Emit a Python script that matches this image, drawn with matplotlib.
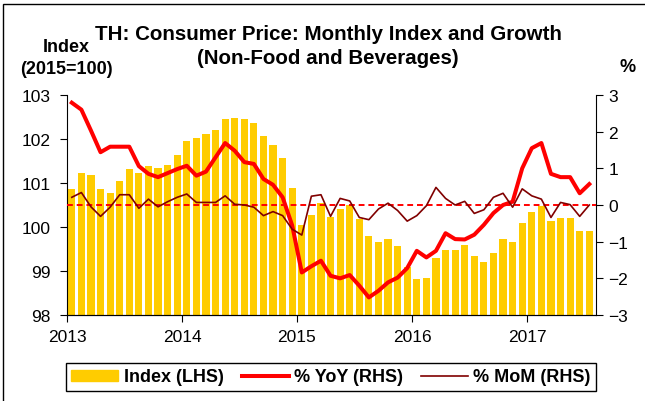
import matplotlib
matplotlib.use("Agg")
import matplotlib.pyplot as plt
import numpy as np
from matplotlib.patches import Rectangle
from matplotlib.lines import Line2D

plt.rcParams['font.family'] = ['Liberation Sans', 'DejaVu Sans']

# monthly data, Jan 2013 - Jul 2017
index_lhs = [100.87, 101.23, 101.19, 100.86, 100.77, 101.04, 101.32, 101.22, 101.38, 101.33, 101.42, 101.64,
             101.95, 102.02, 102.11, 102.20, 102.45, 102.47, 102.45, 102.36, 102.06, 101.86, 101.56, 100.89,
             100.05, 100.27, 100.55, 100.23, 100.41, 100.49, 100.18, 99.79, 99.65, 99.72, 99.56, 99.10,
             98.81, 98.83, 99.30, 99.47, 99.47, 99.58, 99.33, 99.20, 99.42, 99.73, 99.66, 100.09,
             100.33, 100.47, 100.13, 100.20, 100.21, 99.90, 99.90]
yoy = [2.79, 2.60, 2.03, 1.44, 1.59, 1.59, 1.59, 1.06, 0.85, 0.76, 0.87, 0.98,
       1.07, 0.80, 0.91, 1.30, 1.69, 1.48, 1.17, 1.12, 0.71, 0.55, 0.21, -0.56,
       -1.84, -1.67, -1.52, -1.93, -2.00, -1.91, -2.20, -2.52, -2.34, -2.11, -1.98, -1.72,
       -1.25, -1.43, -1.25, -0.77, -0.93, -0.94, -0.81, -0.54, -0.22, 0.00, 0.09, 1.00,
       1.55, 1.69, 0.85, 0.76, 0.76, 0.32, 0.57]
mom = [0.21, 0.34, -0.05, -0.31, -0.06, 0.28, 0.28, -0.09, 0.16, -0.05, 0.09, 0.21,
       0.30, 0.07, 0.07, 0.07, 0.25, 0.02, 0.00, -0.06, -0.29, -0.18, -0.29, -0.66,
       -0.82, 0.24, 0.28, -0.31, 0.18, 0.11, -0.34, -0.40, -0.11, 0.05, -0.15, -0.44,
       -0.29, -0.02, 0.48, 0.18, 0.00, 0.10, -0.23, -0.13, 0.21, 0.32, -0.06, 0.44,
       0.25, 0.16, -0.34, 0.07, 0.01, -0.31, 0.00]
years = ['2013', '2014', '2015', '2016', '2017']

W, H = 645, 402
fig = plt.figure(figsize=(W / 100, H / 100), dpi=100)

def fx(px):
    return px / W

def fy(py):
    return 1 - py / H

# outer frame (only top and left edge fall inside the picture)
fig.patches.append(Rectangle((fx(3), fy(450)), fx(700), fy(5) - fy(450), transform=fig.transFigure,
                             fill=False, edgecolor='black', linewidth=1.0))

ax = fig.add_axes([fx(67), fy(316), fx(596) - fx(67), fy(96) - fy(316)])
ax2 = ax.twinx()

x = np.arange(len(index_lhs)) + 0.5
ax.bar(x, index_lhs, width=0.74, color='#FFCC00', zorder=2)
ax.set_ylim(98, 103)
ax.set_xlim(0, 55.2)
ax.set_yticks(range(98, 104))
ax.set_xticks(np.arange(len(years)) * 12)
ax.set_xticklabels(years)

ax2.axhline(0, color='#FF0000', linestyle=(0, (3, 2)), linewidth=1.4, zorder=3)
ax2.plot(x, yoy, color='#FF0000', linewidth=2.9, zorder=4)
ax2.plot(x, mom, color='#800000', linewidth=1.2, zorder=5)
ax2.set_ylim(-3, 3)
ax2.set_yticks(range(-3, 4))

for a in (ax, ax2):
    a.spines['top'].set_visible(False)
    a.tick_params(labelsize=12.5, length=5, width=0.8, direction='out')
ax.spines['right'].set_visible(False)
ax2.spines['left'].set_visible(False)
ax.tick_params(axis='x', pad=5)
ax.tick_params(axis='y', pad=7)
ax2.tick_params(axis='y', pad=4)

fig.text(fx(328), fy(35), 'TH: Consumer Price: Monthly Index and Growth', ha='center', va='center',
         fontsize=14.8, fontweight='bold')
fig.text(fx(328), fy(58), '(Non-Food and Beverages)', ha='center', va='center',
         fontsize=14.8, fontweight='bold')
fig.text(fx(66), fy(48), 'Index', ha='center', va='center', fontsize=13, fontweight='bold')
fig.text(fx(66), fy(70), '(2015=100)', ha='center', va='center', fontsize=13, fontweight='bold')
fig.text(fx(628), fy(67), '%', ha='center', va='center', fontsize=13, fontweight='bold')

handles = [Rectangle((0, 0), 1, 1, color='#FFCC00'),
           Line2D([], [], color='#FF0000', linewidth=2.9),
           Line2D([], [], color='#800000', linewidth=1.2)]
labels = ['Index (LHS)', '% YoY (RHS)', '% MoM (RHS)']
leg = fig.legend(handles, labels, loc='center', bbox_to_anchor=(fx(331), fy(378)), ncol=3,
                 frameon=True, fancybox=False, edgecolor='black', framealpha=1,
                 prop={'weight': 'bold', 'size': 13}, handlelength=2.6, handleheight=0.55,
                 columnspacing=1.0, handletextpad=0.3, borderpad=0.3)
leg.get_frame().set_linewidth(1.0)

fig.savefig('out.png', dpi=100)
